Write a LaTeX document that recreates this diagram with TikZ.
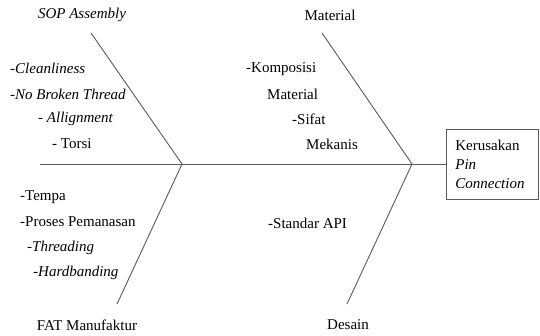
\documentclass[tikz,border=0pt]{standalone}
\usepackage{fontspec}
\setmainfont{Liberation Serif}
\usepackage{tikz}
\usetikzlibrary{positioning}
\definecolor{bonegray}{gray}{0.35}
\tikzstyle{bone}=[draw=bonegray, line width=0.9pt]
\tikzstyle{cause}=[inner sep=0pt, anchor=west, font=\fontsize{15}{17}\selectfont]
\tikzstyle{head}=[inner sep=0pt, font=\fontsize{15}{17}\selectfont]
\tikzstyle{effect}=[draw=bonegray, line width=0.8pt, minimum width=92pt, minimum height=70pt,
 text width=74pt, align=left, inner xsep=9pt, font=\fontsize{15}{19}\selectfont]
\begin{document}
\begin{tikzpicture}[x=1pt, y=-1pt]
 \useasboundingbox (0,0) rectangle (540,335);
%
 \node[effect, anchor=west] (kerusakan) at (446,164) {Kerusakan\\ \textit{Pin}\\ \textit{Connection}};
 \coordinate (tail) at (40,164);
 \coordinate (jleft) at (182,164);
 \coordinate (jright) at (412,164);
 \draw[bone] (tail) -- (kerusakan.west);
%
 \coordinate (sopend) at (91,33);
 \coordinate (fatend) at (117,304);
 \coordinate (matend) at (322,33);
 \coordinate (desend) at (347,304);
 \draw[bone] (sopend) -- (jleft) -- (fatend);
 \draw[bone] (matend) -- (jright) -- (desend);
%
 \node[head] (sop) at (82,15) {\textit{SOP Assembly}};
 \node[head] (fat) at (87,325) {FAT Manufaktur};
 \node[head] (material) at (330,15) {Material};
 \node[head] (desain) at (348,325) {Desain};
%
 \node[cause] (c1) at (10,68) {-\textit{Cleanliness}};
 \node[cause] (c2) at (10,94) {-\textit{No Broken Thread}};
 \node[cause] (c3) at (38,119) {- \textit{Allignment}};
 \node[cause] (c4) at (52,144) {- Torsi};
%
 \node[cause] (f1) at (20,197) {-Tempa};
 \node[cause] (f2) at (20,222) {-Proses Pemanasan};
 \node[cause] (f3) at (27,248) {-\textit{Threading}};
 \node[cause] (f4) at (33,273) {-\textit{Hardbanding}};
%
 \node[cause] (m1) at (246,69) {-Komposisi};
 \node[cause] (m2) at (267,94) {Material};
 \node[cause] (m3) at (292,119) {-Sifat};
 \node[cause] (m4) at (306,144) {Mekanis};
%
 \node[cause] (d1) at (268,223) {-Standar API};
\end{tikzpicture}
\end{document}
